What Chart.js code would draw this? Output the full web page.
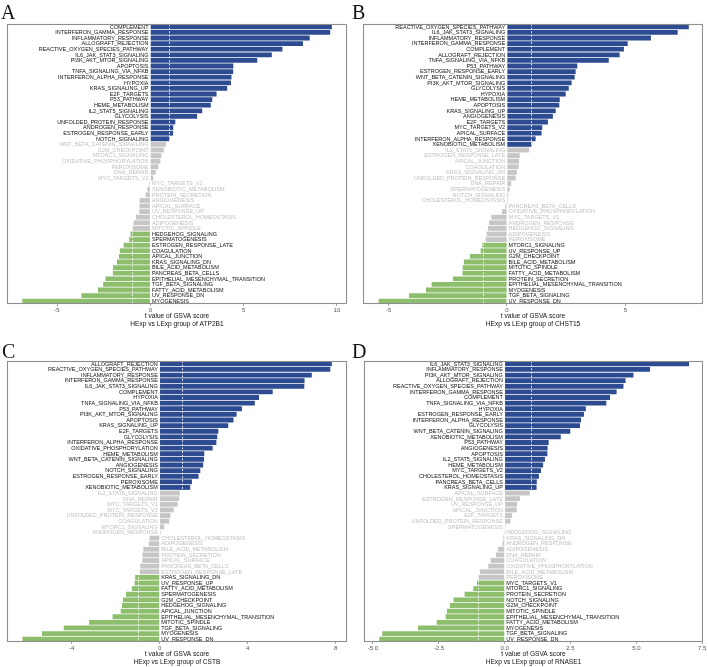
<!DOCTYPE html>
<html><head><meta charset="utf-8">
<script src="https://cdn.jsdelivr.net/npm/chart.js@4.4.1/dist/chart.umd.min.js"></script>
<style>
html,body{margin:0;padding:0;background:#fff;width:708px;height:667px;overflow:hidden}
.panel{position:absolute;width:354px;height:333px}
.panel canvas{position:absolute;left:0;top:0}
.tag{position:absolute;font-family:"Liberation Serif","DejaVu Serif",serif;font-size:20px;line-height:1;color:#111}
</style></head><body>
<div class="panel" style="left:0;top:0"><canvas id="cA" width="354" height="333"></canvas></div>
<div class="panel" style="left:354px;top:0"><canvas id="cB" width="354" height="333"></canvas></div>
<div class="panel" style="left:0;top:333px"><canvas id="cC" width="354" height="333"></canvas></div>
<div class="panel" style="left:354px;top:333px"><canvas id="cD" width="354" height="333"></canvas></div>
<div class="tag" style="left:1px;top:2px">A</div>
<div class="tag" style="left:352px;top:2px">B</div>
<div class="tag" style="left:2px;top:341px">C</div>
<div class="tag" style="left:352px;top:341px">D</div>
<script>
// ---------- data ----------
const panelTags = ['A','B','C','D'];
const genes = ['ATP2B1','CHST15','CSTB','RNASE1'];
const axisTitle = 't value of GSVA score';
const cutoff = 1;

const namesA = ['COMPLEMENT','INTERFERON_GAMMA_RESPONSE','INFLAMMATORY_RESPONSE','ALLOGRAFT_REJECTION','REACTIVE_OXYGEN_SPECIES_PATHWAY','IL6_JAK_STAT3_SIGNALING','PI3K_AKT_MTOR_SIGNALING','APOPTOSIS','TNFA_SIGNALING_VIA_NFKB','INTERFERON_ALPHA_RESPONSE','HYPOXIA','KRAS_SIGNALING_UP','E2F_TARGETS','P53_PATHWAY','HEME_METABOLISM','IL2_STAT5_SIGNALING','GLYCOLYSIS','UNFOLDED_PROTEIN_RESPONSE','ANDROGEN_RESPONSE','ESTROGEN_RESPONSE_EARLY','NOTCH_SIGNALING','WNT_BETA_CATENIN_SIGNALING','G2M_CHECKPOINT','MTORC1_SIGNALING','OXIDATIVE_PHOSPHORYLATION','PEROXISOME','DNA_REPAIR','MYC_TARGETS_V2','MYC_TARGETS_V1','XENOBIOTIC_METABOLISM','PROTEIN_SECRETION','ANGIOGENESIS','APICAL_SURFACE','UV_RESPONSE_UP','CHOLESTEROL_HOMEOSTASIS','ADIPOGENESIS','MITOTIC_SPINDLE','HEDGEHOG_SIGNALING','SPERMATOGENESIS','ESTROGEN_RESPONSE_LATE','COAGULATION','APICAL_JUNCTION','KRAS_SIGNALING_DN','BILE_ACID_METABOLISM','PANCREAS_BETA_CELLS','EPITHELIAL_MESENCHYMAL_TRANSITION','TGF_BETA_SIGNALING','FATTY_ACID_METABOLISM','UV_RESPONSE_DN','MYOGENESIS'];
const valuesA = [9.73,9.64,8.54,8.18,7.08,6.51,5.73,4.45,4.44,4.35,4.32,4.12,3.55,3.32,3.24,2.78,2.51,1.34,1.23,1.22,1.03,0.84,0.72,0.59,0.54,0.43,0.29,0.16,-0.05,-0.16,-0.25,-0.57,-0.58,-0.59,-0.77,-0.9,-0.95,-1.06,-1.13,-1.43,-1.63,-1.68,-1.79,-2.0,-2.01,-2.4,-2.53,-2.81,-3.69,-6.86];

const namesB = ['REACTIVE_OXYGEN_SPECIES_PATHWAY','IL6_JAK_STAT3_SIGNALING','INFLAMMATORY_RESPONSE','INTERFERON_GAMMA_RESPONSE','COMPLEMENT','ALLOGRAFT_REJECTION','TNFA_SIGNALING_VIA_NFKB','P53_PATHWAY','ESTROGEN_RESPONSE_EARLY','WNT_BETA_CATENIN_SIGNALING','PI3K_AKT_MTOR_SIGNALING','GLYCOLYSIS','HYPOXIA','HEME_METABOLISM','APOPTOSIS','KRAS_SIGNALING_UP','ANGIOGENESIS','E2F_TARGETS','MYC_TARGETS_V2','APICAL_SURFACE','INTERFERON_ALPHA_RESPONSE','XENOBIOTIC_METABOLISM','IL2_STAT5_SIGNALING','ESTROGEN_RESPONSE_LATE','APICAL_JUNCTION','COAGULATION','KRAS_SIGNALING_DN','UNFOLDED_PROTEIN_RESPONSE','DNA_REPAIR','SPERMATOGENESIS','NOTCH_SIGNALING','CHOLESTEROL_HOMEOSTASIS','PANCREAS_BETA_CELLS','OXIDATIVE_PHOSPHORYLATION','MYC_TARGETS_V1','ANDROGEN_RESPONSE','HEDGEHOG_SIGNALING','ADIPOGENESIS','PEROXISOME','MTORC1_SIGNALING','UV_RESPONSE_UP','G2M_CHECKPOINT','BILE_ACID_METABOLISM','MITOTIC_SPINDLE','FATTY_ACID_METABOLISM','PROTEIN_SECRETION','EPITHELIAL_MESENCHYMAL_TRANSITION','MYOGENESIS','TGF_BETA_SIGNALING','UV_RESPONSE_DN'];
const valuesB = [7.68,7.21,6.08,5.10,4.94,4.76,4.30,2.97,2.90,2.86,2.73,2.61,2.48,2.23,2.21,2.06,1.94,1.73,1.49,1.46,1.21,1.04,0.94,0.54,0.51,0.49,0.42,0.37,0.18,0.11,0.06,0.04,-0.07,-0.21,-0.66,-0.76,-0.80,-0.86,-0.90,-1.04,-1.11,-1.56,-1.82,-1.87,-1.88,-2.28,-3.18,-3.42,-4.14,-5.42];

const namesC = ['ALLOGRAFT_REJECTION','REACTIVE_OXYGEN_SPECIES_PATHWAY','INFLAMMATORY_RESPONSE','INTERFERON_GAMMA_RESPONSE','IL6_JAK_STAT3_SIGNALING','COMPLEMENT','HYPOXIA','TNFA_SIGNALING_VIA_NFKB','P53_PATHWAY','PI3K_AKT_MTOR_SIGNALING','APOPTOSIS','KRAS_SIGNALING_UP','E2F_TARGETS','GLYCOLYSIS','INTERFERON_ALPHA_RESPONSE','OXIDATIVE_PHOSPHORYLATION','HEME_METABOLISM','WNT_BETA_CATENIN_SIGNALING','ANGIOGENESIS','NOTCH_SIGNALING','ESTROGEN_RESPONSE_EARLY','PEROXISOME','XENOBIOTIC_METABOLISM','IL2_STAT5_SIGNALING','DNA_REPAIR','MYC_TARGETS_V1','MYC_TARGETS_V2','UNFOLDED_PROTEIN_RESPONSE','COAGULATION','MTORC1_SIGNALING','ANDROGEN_RESPONSE','CHOLESTEROL_HOMEOSTASIS','ADIPOGENESIS','BILE_ACID_METABOLISM','PROTEIN_SECRETION','APICAL_SURFACE','PANCREAS_BETA_CELLS','ESTROGEN_RESPONSE_LATE','KRAS_SIGNALING_DN','UV_RESPONSE_UP','FATTY_ACID_METABOLISM','SPERMATOGENESIS','G2M_CHECKPOINT','HEDGEHOG_SIGNALING','APICAL_JUNCTION','EPITHELIAL_MESENCHYMAL_TRANSITION','MITOTIC_SPINDLE','TGF_BETA_SIGNALING','MYOGENESIS','UV_RESPONSE_DN'];
const valuesC = [7.83,7.76,6.92,6.59,6.58,5.14,4.52,4.33,3.74,3.50,3.36,3.12,2.67,2.62,2.58,2.41,2.03,2.02,1.98,1.85,1.77,1.47,1.39,0.92,0.89,0.82,0.64,0.49,0.44,0.21,0.04,-0.46,-0.49,-0.74,-0.78,-0.79,-0.88,-0.90,-1.11,-1.14,-1.26,-1.53,-1.67,-1.71,-1.77,-2.14,-3.21,-4.36,-5.35,-6.24];

const namesD = ['IL6_JAK_STAT3_SIGNALING','INFLAMMATORY_RESPONSE','PI3K_AKT_MTOR_SIGNALING','ALLOGRAFT_REJECTION','REACTIVE_OXYGEN_SPECIES_PATHWAY','INTERFERON_GAMMA_RESPONSE','COMPLEMENT','TNFA_SIGNALING_VIA_NFKB','HYPOXIA','ESTROGEN_RESPONSE_EARLY','INTERFERON_ALPHA_RESPONSE','GLYCOLYSIS','WNT_BETA_CATENIN_SIGNALING','XENOBIOTIC_METABOLISM','P53_PATHWAY','ANGIOGENESIS','APOPTOSIS','IL2_STAT5_SIGNALING','HEME_METABOLISM','MYC_TARGETS_V2','CHOLESTEROL_HOMEOSTASIS','PANCREAS_BETA_CELLS','KRAS_SIGNALING_UP','APICAL_SURFACE','ESTROGEN_RESPONSE_LATE','UV_RESPONSE_UP','APICAL_JUNCTION','E2F_TARGETS','UNFOLDED_PROTEIN_RESPONSE','SPERMATOGENESIS','HEDGEHOG_SIGNALING','KRAS_SIGNALING_DN','ANDROGEN_RESPONSE','ADIPOGENESIS','DNA_REPAIR','COAGULATION','OXIDATIVE_PHOSPHORYLATION','BILE_ACID_METABOLISM','PEROXISOME','MYC_TARGETS_V1','MTORC1_SIGNALING','PROTEIN_SECRETION','NOTCH_SIGNALING','G2M_CHECKPOINT','MITOTIC_SPINDLE','EPITHELIAL_MESENCHYMAL_TRANSITION','FATTY_ACID_METABOLISM','MYOGENESIS','TGF_BETA_SIGNALING','UV_RESPONSE_DN'];
const valuesD = [7.0,5.52,4.89,4.59,4.51,4.25,4.0,3.86,3.08,3.01,2.9,2.86,2.49,2.13,1.67,1.63,1.62,1.53,1.46,1.38,1.30,1.22,1.21,0.95,0.58,0.47,0.46,0.28,0.22,0.03,-0.03,-0.05,-0.08,-0.25,-0.33,-0.53,-0.62,-0.94,-0.99,-1.05,-1.19,-1.52,-1.94,-2.08,-2.19,-2.24,-2.58,-3.29,-4.65,-4.76];

const ticksA = [-5,0,5,10];           const tickLabelsA = ['-5','0','5','10'];
const ticksB = [-5,0,5];              const tickLabelsB = ['-5','0','5'];
const ticksC = [-4,0,4,8];            const tickLabelsC = ['-4','0','4','8'];
const ticksD = [-5,-2.5,0,2.5,5,7.5]; const tickLabelsD = ['-5.0','-2.5','0.0','2.5','5.0','7.5'];

// ---------- style / layout ----------
const COL_UP = '#2D4B90', COL_DN = '#8CBE6C', COL_NS = '#C6C6C6';
const TXT_SIG = '#111111', TXT_NS = '#BEBEBE';

const decoPlugin = {
  id: 'deco',
  afterDatasetsDraw(chart, args, opts) {
    const {ctx, chartArea: a, scales: {x}} = chart;
    ctx.save();
    ctx.strokeStyle = '#ffffff';
    ctx.lineWidth = 0.8;
    ctx.setLineDash([2, 1.6]);
    [-cutoff, cutoff].forEach(v => {
      const px = Math.round(x.getPixelForValue(v)) + 0.5;
      ctx.beginPath(); ctx.moveTo(px, a.top); ctx.lineTo(px, a.bottom); ctx.stroke();
    });
    ctx.setLineDash([]);
    const meta = chart.getDatasetMeta(0);
    const vals = chart.data.datasets[0].data;
    const labs = chart.data.labels;
    const x0 = x.getPixelForValue(0);
    ctx.font = '5.5px "Liberation Sans", Arial, sans-serif';
    ctx.textBaseline = 'middle';
    meta.data.forEach((el, i) => {
      const v = vals[i];
      ctx.fillStyle = Math.abs(v) > cutoff ? TXT_SIG : TXT_NS;
      if (v >= 0) { ctx.textAlign = 'right'; ctx.fillText(labs[i], x0 - 1.8, el.y + 0.3); }
      else { ctx.textAlign = 'left'; ctx.fillText(labs[i], x0 + 1.6, el.y + 0.3); }
    });
    ctx.strokeStyle = '#8e8e8e';
    ctx.lineWidth = 1.1;
    ctx.strokeRect(a.left + 0.5, a.top + 0.5, a.width - 1, a.height - 1);
    ctx.restore();
  }
};

function makeChart(id, names, values, tickVals, tickLabels, gene, range, pad) {
  const colors = values.map(v => v > cutoff ? COL_UP : (v < -cutoff ? COL_DN : COL_NS));
  return new Chart(document.getElementById(id), {
    type: 'bar',
    data: { labels: names, datasets: [{ data: values, backgroundColor: colors, borderWidth: 0, barPercentage: 0.86, categoryPercentage: 1 }] },
    options: {
      indexAxis: 'y', responsive: false, animation: false, events: [],
      layout: { padding: pad },
      plugins: { legend: { display: false }, tooltip: { enabled: false } },
      scales: {
        y: { display: false },
        x: {
          min: range[0], max: range[1],
          grid: { drawOnChartArea: false, drawTicks: true, tickLength: 2, color: '#8a8a8a', lineWidth: 0.8 },
          border: { display: false },
          ticks: { font: { size: 6, family: 'Liberation Sans' }, color: '#555555', padding: 0.5, maxRotation: 0, autoSkip: false,
                   callback: (v) => { const k = tickVals.indexOf(v); return k >= 0 ? tickLabels[k] : ''; } },
          afterBuildTicks: s => { s.ticks = tickVals.map(v => ({ value: v })); },
          afterFit: s => { s.height = 24; s.paddingLeft = 0; s.paddingRight = 0; },
          title: { display: true, text: [axisTitle, 'HExp vs LExp group of ' + gene],
                   font: { size: 6.6, family: 'Liberation Sans', lineHeight: 1.1 }, color: '#111', padding: { top: 0, bottom: 0.5 } }
        }
      }
    },
    plugins: [decoPlugin]
  });
}

makeChart('cA', namesA, valuesA, ticksA, tickLabelsA, genes[0], [-7.68, 10.54], { left: 7, right: 7, top: 24, bottom: 5 });
makeChart('cB', namesB, valuesB, ticksB, tickLabelsB, genes[1], [-6.08, 8.28], { left: 9, right: 5, top: 24, bottom: 5 });
makeChart('cC', namesC, valuesC, ticksC, tickLabelsC, genes[2], [-6.94, 8.52], { left: 7, right: 7, top: 28, bottom: 0 });
makeChart('cD', namesD, valuesD, ticksD, tickLabelsD, genes[3], [-5.34, 7.53], { left: 10, right: 5, top: 28, bottom: 0 });
</script>
</body></html>
